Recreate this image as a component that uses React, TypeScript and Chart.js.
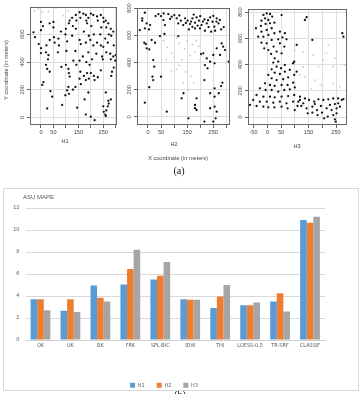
import React, { useEffect, useRef } from 'react';
import { Chart, registerables } from 'chart.js';
Chart.register(...registerables);

// ---------- Panel (a): sample locations, [x, y] in meters ----------
const h1Black: [number, number][] = [
  [-30,615],[-24,580],[-9,530],[0,690],[0,630],[0,500],[0,465],[5,235],[10,255],[8,660],[20,380],[22,520],[20,470],[25,350],[28,420],[30,450],[25,65],[35,680],[35,560],[38,190],[45,150],[35,330],[50,690],[50,650],[52,580],[55,540],[70,570],[72,520],[68,470],[85,90],[80,620],[82,365],
  [100,640],[98,600],[105,550],[102,480],[100,380],[98,160],[105,195],[112,680],[115,700],[110,350],[112,320],[115,295],[110,220],[112,170],[125,720],[128,660],[125,590],[130,410],[128,200],[140,740],[142,700],[140,640],[138,480],[142,380],[138,220],[145,70],
  [155,760],[158,720],[155,560],[160,530],[155,410],[158,330],[155,280],[160,240],[170,750],[172,620],[168,440],[172,300],[175,130],[180,740],[182,700],[185,680],[180,540],[182,400],[185,320],[180,270],[180,20],[190,720],[192,590],[190,470],[195,380],[192,280],[190,180],
  [200,750],[202,660],[198,560],[205,420],[200,320],[200,5],[210,740],[212,600],[210,520],[212,300],[215,270],[215,-20],[225,730],[228,700],[225,540],[222,460],[228,290],[240,740],[242,650],[238,600],[240,520],[245,440],[240,340],[250,720],[252,690],[250,510],[248,420],[250,80],[252,40],
  [260,700],[262,650],[258,570],[262,470],[260,180],[262,50],[258,20],[260,10],[270,680],[272,600],[268,540],[270,120],[272,100],[268,80],[280,640],[282,590],[278,460],[280,420],[285,330],[282,300],[280,130],[290,620],[292,520],[290,440],[292,360],[300,450],[298,410]
];
const h1Gray: [number, number][] = [
  [-25,770],[-10,785],[5,760],[30,765],[60,790],[90,735],[110,770],[118,720]
];
const h2Black: [number, number][] = [
  [-31,638],[-22,724],[-22,707],[-12,765],[-5,687],[-12,650],[8,675],[4,643],[-8,535],[-5,504],[-14,545],[14,565],[5,496],[27,545],[20,418],[24,369],[17,296],[20,271],[5,218],[-12,105],[50,296],[72,39],
  [29,741],[40,755],[50,741],[59,711],[65,675],[78,755],[91,736],[101,748],[110,724],[116,687],[126,707],[135,675],[142,724],[152,707],[161,682],[170,724],[180,692],[186,731],[195,707],[205,675],[216,716],[225,687],[238,731],[247,699],[254,663],[263,724],[270,687],[280,643],[257,633],[242,626],[218,633],[199,650],[180,650],[157,643],[46,594],[63,609],[116,594],
  [60,760],[85,720],[120,745],[145,690],[165,700],[175,752],[200,740],[210,700],[230,710],[250,742],[262,700],[275,712],[290,660],[232,660],[190,670],[170,662],
  [212,467],[225,430],[238,406],[250,455],[263,504],[282,540],[288,516],[295,491],[276,455],[255,394],[218,381],[216,271],[255,210],[238,174],[255,149],[271,174],[280,227],[285,252],[309,406],[203,462],[228,357],
  [129,137],[136,174],[186,137],[180,88],[180,64],[186,51],[155,-10],[216,-34],[238,64],[255,76],[263,39],[259,-10],[250,-34]
];
const h2Gray: [number, number][] = [
  [60,560],[75,510],[90,470],[70,420],[110,580],[120,540],[140,500],[100,440],[130,420],[150,560],[170,530],[180,480],[160,450],[120,380],[145,330],[165,300],[185,560],[195,520],[200,420],[135,250],[175,250],[155,200],[110,350],[90,340]
];
const h3Black: [number, number][] = [
  [-14,779],[-2,791],[10,786],[18,766],[52,778],[-8,753],[4,740],[-21,735],[-23,695],[-6,710],[10,715],[26,720],[16,677],[-2,664],[-21,651],[-41,677],[-33,613],[-14,613],[4,626],[26,639],[46,651],[64,639],[55,608],[70,593],[40,593],[16,588],[-2,562],[-21,567],[-11,524],[4,511],[23,537],[46,562],[62,537],[34,499],[52,486],[14,481],
  [27,448],[40,422],[22,415],[34,384],[50,372],[64,397],[94,410],[16,364],[27,338],[46,328],[64,346],[82,359],[4,321],[16,295],[34,282],[58,288],[76,303],[98,321],[-8,257],[10,244],[27,237],[52,244],[74,244],[94,262],[107,346],
  [-27,219],[-6,206],[16,206],[40,193],[62,206],[82,211],[100,226],[-39,168],[-14,155],[10,155],[27,150],[52,155],[76,160],[98,168],[119,155],[-51,130],[-27,117],[-2,117],[22,109],[46,117],[70,104],[94,117],[119,130],[137,142],
  [-63,92],[-39,84],[-14,79],[4,74],[26,74],[52,79],[74,66],[100,53],[124,84],[152,130],[171,117],[186,135],[204,130],[222,135],[240,142],[252,66],[258,142],[143,66],[164,79],[181,53],[195,84],[216,66],[234,53],[147,28],[164,33],[183,15],[199,33],[220,3],[240,15],[207,-10],[246,-18],[252,28],[258,104],[264,79],[271,130],[277,137],[110,84],[113,117],[131,104],[173,99],[228,92],[246,99],[249,-36],
  [137,740],[143,761],[164,588],[273,639],[277,613],[107,550],[98,422]
];
const h3Gray: [number, number][] = [
  [100,511],[131,499],[167,473],[216,486],[222,550],[204,435],[246,448],[282,397],[119,321],[137,308],[173,282],[161,219],[197,244],[240,257],[264,232],[131,384],[186,384],[240,384],[100,257]
];
const xTickValues = [-50, 0, 50, 100, 150, 200, 250, 300];
const yTickValues = [0, 200, 400, 600, 800];
const xLabelsH12 = ['0', '50', '150', '250'];
const xLabelsH3 = ['-50', '0', '50', '150', '250'];
const yLabelsH1 = ['0', '200', '400', '600'];
const yLabelsH23 = ['0', '200', '400', '600', '800'];

// ---------- Panel (b): ASU MAPE ----------
const methods = ['OK', 'UK', 'BK', 'FRK', 'SPL-BIC', 'IDW', 'THI', 'LOESS-0.5', 'TR-SRF', 'CLASSIF'];
const mapeH1 = [3.7, 2.65, 4.95, 5.05, 5.5, 3.7, 2.9, 3.15, 3.5, 10.9];
const mapeH2 = [3.7, 3.7, 3.85, 6.45, 5.85, 3.65, 3.95, 3.15, 4.25, 10.65];
const mapeH3 = [2.7, 2.55, 3.5, 8.2, 7.1, 3.65, 5.0, 3.4, 2.6, 11.2];
const mapeTicks = [0, 2, 4, 6, 8, 10, 12];

const R_FONT = '"Liberation Sans", Arial, sans-serif';
const XL_FONT = '"Liberation Sans Narrow", "DejaVu Sans Condensed", "Liberation Sans", sans-serif';

type PanelProps = {
  black: [number, number][]; gray: [number, number][];
  left: number; top: number; right: number; bottom: number;
  xMin: number; xMax: number; yMin: number; yMax: number;
  xLabels: string[]; yLabels: string[];
};

const AXW = 30, AXH = 20, PH = 150, PR = 4;

function ScatterPanel(p: PanelProps) {
  const ref = useRef<HTMLCanvasElement>(null);
  const width = p.right - p.left + AXW + PR;
  useEffect(() => {
    const pts = (a: [number, number][]) => a.map(([x, y]) => ({ x, y }));
    const boxPlugin = {
      id: 'rbox',
      afterDraw(chart: any) {
        const { ctx, chartArea: ca, scales } = chart;
        ctx.save();
        ctx.strokeStyle = '#666';
        ctx.lineWidth = 1;
        ctx.strokeRect(Math.round(ca.left) + 0.5, Math.round(ca.top) + 0.5, Math.round(ca.right - ca.left) - 1, Math.round(ca.bottom - ca.top) - 1);
        ctx.fillStyle = '#444';
        ctx.font = '5.6px ' + R_FONT;
        ctx.textAlign = 'center';
        ctx.textBaseline = 'middle';
        p.yLabels.forEach((lbl) => {
          const py = scales.y.getPixelForValue(Number(lbl));
          ctx.save();
          ctx.translate(ca.left - 8, py);
          ctx.rotate(-Math.PI / 2);
          ctx.fillText(lbl, 0, 0);
          ctx.restore();
        });
        ctx.restore();
      }
    };
    const chart = new Chart(ref.current!, {
      type: 'scatter',
      data: {
        datasets: [
          { data: pts(p.gray), pointRadius: 0.9, backgroundColor: '#c8c8c8', borderWidth: 0 },
          { data: pts(p.black), pointRadius: 1.15, backgroundColor: '#111', borderWidth: 0 }
        ]
      },
      options: {
        responsive: false,
        animation: false,
        events: [],
        layout: { padding: { top: p.top, bottom: PH - AXH - p.bottom, left: 0, right: PR } },
        plugins: { legend: { display: false }, tooltip: { enabled: false } },
        scales: {
          x: {
            type: 'linear', min: p.xMin, max: p.xMax,
            afterBuildTicks: (s: any) => { s.ticks = xTickValues.filter((v) => v >= p.xMin && v <= p.xMax).map((value) => ({ value })); },
            afterFit: (s: any) => { s.height = AXH; s.paddingLeft = 0; s.paddingRight = 0; },
            grid: { color: '#dedede', lineWidth: 1, tickLength: 3, tickColor: '#666' },
            border: { display: false },
            ticks: {
              padding: 1, color: '#444', font: { size: 5.6, family: R_FONT }, maxRotation: 0, minRotation: 0, autoSkip: false,
              callback: (v: any) => (p.xLabels.includes(String(v)) ? String(v) : '')
            }
          },
          y: {
            type: 'linear', min: p.yMin, max: p.yMax,
            afterBuildTicks: (s: any) => { s.ticks = yTickValues.filter((v) => v >= p.yMin && v <= p.yMax).map((value) => ({ value })); },
            afterFit: (s: any) => { s.width = AXW; s.paddingTop = 0; s.paddingBottom = 0; },
            grid: { color: '#dedede', lineWidth: 1, tickLength: 3, tickColor: '#666' },
            border: { display: false },
            ticks: { display: false }
          }
        }
      } as any,
      plugins: [boxPlugin]
    });
    return () => chart.destroy();
  }, []);
  return (
    <canvas ref={ref} width={width} height={PH}
      style={{ position: 'absolute', left: p.left - AXW, top: 0, width, height: PH }} />
  );
}

function MapeChart() {
  const ref = useRef<HTMLCanvasElement>(null);
  useEffect(() => {
    const font = { size: 5.5, family: XL_FONT };
    const common = { categoryPercentage: 0.66, barPercentage: 1 };
    const chart = new Chart(ref.current!, {
      type: 'bar',
      data: {
        labels: methods,
        datasets: [
          { label: 'H1', data: mapeH1, backgroundColor: '#5B9BD5', ...common },
          { label: 'H2', data: mapeH2, backgroundColor: '#ED7D31', ...common },
          { label: 'H3', data: mapeH3, backgroundColor: '#A5A5A5', ...common }
        ]
      },
      options: {
        responsive: false,
        animation: false,
        events: [],
        layout: { padding: { top: 20, right: 34, left: 0, bottom: 0 } },
        plugins: {
          legend: {
            position: 'bottom',
            labels: { boxWidth: 5, boxHeight: 5, padding: 12, color: '#595959', font }
          },
          tooltip: { enabled: false }
        },
        scales: {
          x: {
            grid: { display: false, drawTicks: false },
            border: { color: '#d0d0d0' },
            ticks: { padding: 2, autoSkip: false, maxRotation: 0, minRotation: 0, color: '#595959', font },
            afterFit: (s: any) => { s.height = 30.5; s.paddingLeft = 0; s.paddingRight = 0; }
          },
          y: {
            min: 0, max: 12,
            afterBuildTicks: (s: any) => { s.ticks = mapeTicks.map((value) => ({ value })); },
            grid: { color: '#d9d9d9', drawTicks: false },
            border: { display: false },
            ticks: { padding: 6, color: '#595959', font },
            afterFit: (s: any) => { s.width = 22.5; s.paddingTop = 0; s.paddingBottom = 0; }
          }
        }
      } as any
    });
    return () => chart.destroy();
  }, []);
  return (
    <canvas ref={ref} width={356} height={210}
      style={{ position: 'absolute', left: 3, top: 188, width: 356, height: 210 }} />
  );
}

function Txt(props: { x: number; y: number; text: string; size: number; family?: string; color?: string; rotate?: number }) {
  return (
    <div style={{
      position: 'absolute', left: props.x, top: props.y,
      transform: `translate(-50%, -50%) rotate(${props.rotate || 0}deg)`,
      fontSize: props.size, fontFamily: props.family || R_FONT, color: props.color || '#444',
      lineHeight: 1, whiteSpace: 'nowrap'
    }}>{props.text}</div>
  );
}

export default function App() {
  return (
    <div style={{ position: 'fixed', left: 0, top: 0, width: 362, height: 394, overflow: 'hidden', background: '#fff' }}>
      <ScatterPanel black={h1Black} gray={h1Gray} left={30} top={7} right={117} bottom={125}
        xMin={-44} xMax={305} yMin={-55} yMax={798} xLabels={xLabelsH12} yLabels={yLabelsH1} />
      <ScatterPanel black={h2Black} gray={h2Gray} left={137} top={8} right={230} bottom={125}
        xMin={-42} xMax={314} yMin={-59} yMax={800} xLabels={xLabelsH12} yLabels={yLabelsH23} />
      <ScatterPanel black={h3Black} gray={h3Gray} left={248} top={9} right={347} bottom={125}
        xMin={-70} xMax={290} yMin={-61} yMax={824} xLabels={xLabelsH3} yLabels={yLabelsH23} />
      <Txt x={7} y={70} text="Y coordinate (in meters)" size={5.6} rotate={-90} />
      <Txt x={65} y={142} text="H1" size={5.6} />
      <Txt x={174} y={145} text="H2" size={5.6} />
      <Txt x={297} y={147} text="H3" size={5.6} />
      <Txt x={178} y={159} text="X coordinate (in meters)" size={5.6} />
      <Txt x={179} y={171} text="(a)" size={10} family='"Liberation Serif", "DejaVu Serif", serif' color="#111" />
      <div style={{ position: 'absolute', left: 3, top: 188, width: 356, height: 203, border: '1px solid #d9d9d9', boxSizing: 'border-box' }} />
      <MapeChart />
      <div style={{ position: 'absolute', left: 23, top: 194, fontSize: 6, fontFamily: '"Liberation Sans", Arial, sans-serif', color: '#595959', lineHeight: 1, whiteSpace: 'nowrap' }}>ASU MAPE</div>
      <Txt x={180} y={395} text="(b)" size={10} family='"Liberation Serif", "DejaVu Serif", serif' color="#111" />
    </div>
  );
}
